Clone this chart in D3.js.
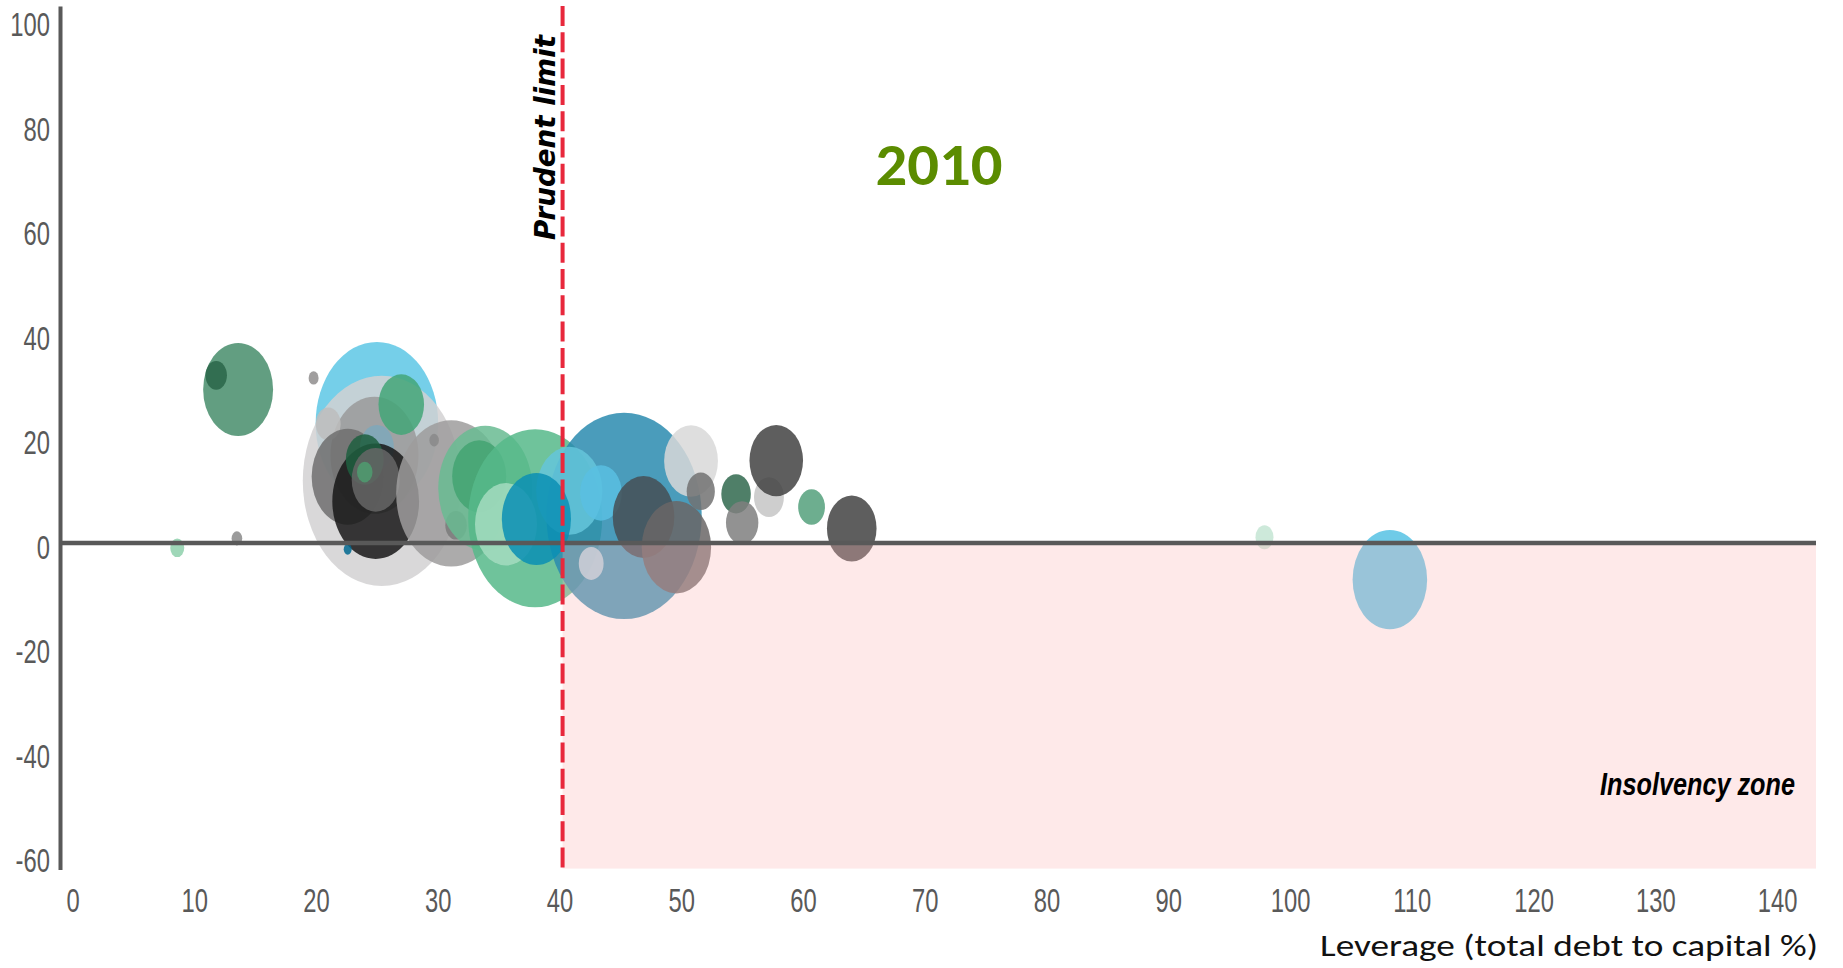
<!DOCTYPE html>
<html>
<head>
<meta charset="utf-8">
<script src="https://cdn.jsdelivr.net/npm/d3@7"></script>
<style>
  html, body { margin: 0; padding: 0; background: #ffffff; }
  svg { display: block; }
</style>
</head>
<body>
<svg id="chart" width="1843" height="968"></svg>
<script>
// ---- Data -------------------------------------------------------------
// Leverage (total debt to capital, %) of each company, in drawing order
const leverage = [
  25.0, 25.4, 24.8, 21.0, 22.6, 25.0, 24.9, 24.0, 24.9, 24.0,
  27.0, 31.1, 29.7, 31.5, 33.9, 33.4, 38.0, 35.6, 45.3, 40.8,
  38.1, 43.4, 42.6, 46.9, 49.6, 50.8, 51.6, 54.5, 55.0, 57.2,
  57.8, 60.7, 64.0, 13.6, 11.8, 19.8, 13.5, 22.6, 8.6, 97.9,
  108.2
];
// Vertical measure (%) of each company
const returnPct = [
  22.9, 11.9, 16.8, 22.8, 12.7, 18.3, 8.0, 16.0, 12.1, 13.6,
  26.5, 9.5, 19.7, 3.4, 10.5, 12.8, 4.75, 3.6, 5.2, 10.0,
  4.6, 9.6, -3.9, 5.0, -0.8, 15.7, 9.9, 9.4, 3.9, 8.8,
  15.8, 6.9, 2.8, 29.4, 32.1, 31.6, 0.9, -1.2, -0.9, 1.1,
  -7.0
];
// Company size (bubble area measure)
const companySize = [
  58.7, 97.5, 30.3, 2.4, 20.3, 4.5, 29.4, 5.6, 9.0, 0.95,
  8.1, 47.3, 0.35, 1.8, 34.5, 11.4, 70.1, 15.0, 94.1, 17.1,
  18.7, 6.8, 2.4, 14.8, 18.8, 11.3, 3.1, 3.4, 4.1, 3.5,
  11.2, 2.8, 9.6, 19.1, 1.8, 0.39, 0.44, 0.25, 0.77, 1.27,
  21.7
];
const xTicks = [0, 10, 20, 30, 40, 50, 60, 70, 80, 90, 100, 110, 120, 130, 140];
const yTicks = [-60, -40, -20, 0, 20, 40, 60, 80, 100];
const prudentLimit = 40.25;
const yearLabel = "2010";
const xTitle = "Leverage (total debt to capital %)";

// ---- Styling ----------------------------------------------------------
const bubbleColour = [
  "#5dc7e5", "#d2d1d2", "#9a9a9a", "#bdbdbd", "#6e6e6e", "#7ea8bb", "#171717", "#1f5f40", "#666666", "#4f9c70",
  "#43a678", "#9e9c9c", "#8a8a8a", "#7a7a7a", "#68bb92", "#43a372", "#56b88a", "#a5dcc0", "#2a8baf", "#65c6da",
  "#0a8fb4", "#59bfe2", "#c0dbe6", "#454f55", "#6a6666", "#d8d8d8", "#727272", "#30684d", "#7f7f7f", "#c6c6c6",
  "#424242", "#53a07b", "#424242", "#468d6b", "#2a6549", "#8f8d8d", "#8a8a8a", "#00688f", "#8ed0ab", "#c4e5d3",
  "#56c2e4"
];
const axisGrey = "#595959";
const limitRed = "#e8283c";

// ---- Scales -----------------------------------------------------------
const svg = d3.select("#chart");
const x = d3.scaleLinear().domain([-1.03, 143.2]).range([60, 1816]);
const y = d3.scaleLinear().domain([-62.5, 102.8]).range([869.6, 6]);
const r = d3.scaleSqrt().domain([0, 100]).range([0, 80]);
const stretch = 1.33; // bubbles are drawn as upright ellipses

// ---- Bubbles ----------------------------------------------------------
svg.append("g")
  .selectAll("ellipse")
  .data(d3.range(leverage.length))
  .join("ellipse")
  .attr("cx", i => x(leverage[i]))
  .attr("cy", i => y(returnPct[i]))
  .attr("rx", i => r(companySize[i]))
  .attr("ry", i => r(companySize[i]) * stretch)
  .attr("fill", i => bubbleColour[i])
  .attr("fill-opacity", 0.85);

// ---- Insolvency zone (tinted overlay) ---------------------------------
svg.append("rect")
  .attr("x", x(prudentLimit))
  .attr("y", y(0))
  .attr("width", x(143.2) - x(prudentLimit))
  .attr("height", y(-62.3) - y(0))
  .attr("fill", "rgb(252,182,182)")
  .attr("opacity", 0.3);

// ---- Axes -------------------------------------------------------------
const yAxis = svg.append("g")
  .attr("transform", `translate(${x(-1.03)},0)`)
  .call(d3.axisLeft(y).tickValues(yTicks).tickSize(0).tickPadding(10).tickFormat(d => String(d)));
yAxis.select(".domain").attr("stroke", axisGrey).attr("stroke-width", 4);
yAxis.selectAll("text")
  .attr("x", 0)
  .attr("dy", "0.45em")
  .attr("transform", "translate(-10,0) scale(0.7,1)")
  .attr("fill", axisGrey)
  .style("font-family", "'Liberation Sans', Arial, sans-serif")
  .style("font-size", "34px");

const xAxis = svg.append("g")
  .attr("transform", `translate(0,${y(-62.5)})`)
  .call(d3.axisBottom(x).tickValues(xTicks).tickSize(0).tickPadding(18).tickFormat(d => String(d)));
xAxis.select(".domain").remove();
xAxis.selectAll("text")
  .attr("transform", "scale(0.7,1)")
  .attr("x", 0)
  .attr("fill", axisGrey)
  .style("font-family", "'Liberation Sans', Arial, sans-serif")
  .style("font-size", "34px");
// keep each label centred on its tick after the horizontal squeeze
xAxis.selectAll(".tick").each(function () {
  const g = d3.select(this);
  const t = g.attr("transform");
  const tx = +t.match(/translate\(([-\d.]+)/)[1];
  g.attr("transform", `translate(${tx},0)`);
});

// zero line
svg.append("line")
  .attr("x1", x(-1.03)).attr("x2", x(143.2))
  .attr("y1", y(0)).attr("y2", y(0))
  .attr("stroke", axisGrey)
  .attr("stroke-width", 4.5);

// prudent leverage limit
svg.append("line")
  .attr("x1", x(prudentLimit)).attr("x2", x(prudentLimit))
  .attr("y1", y(102.8)).attr("y2", y(-62.5))
  .attr("stroke", limitRed)
  .attr("stroke-width", 4)
  .attr("stroke-dasharray", "20 6.3");

// ---- Text -------------------------------------------------------------
svg.append("text")
  .attr("transform", `translate(${x(prudentLimit) - 8},240) rotate(-90)`)
  .attr("text-anchor", "start")
  .attr("textLength", 205)
  .attr("lengthAdjust", "spacingAndGlyphs")
  .style("font-family", "'DejaVu Sans', Verdana, sans-serif")
  .style("font-weight", "bold")
  .style("font-style", "italic")
  .style("font-size", "28px")
  .attr("fill", "#000")
  .text("Prudent limit");

svg.append("text")
  .attr("x", 939).attr("y", 184.5)
  .attr("text-anchor", "middle")
  .attr("textLength", 127)
  .attr("lengthAdjust", "spacingAndGlyphs")
  .style("font-family", "Carlito, Lato, sans-serif")
  .style("font-weight", "bold")
  .style("font-size", "60px")
  .attr("fill", "#5b8c00")
  .text(yearLabel);

svg.append("text")
  .attr("x", 1795).attr("y", 795)
  .attr("text-anchor", "end")
  .attr("textLength", 195)
  .attr("lengthAdjust", "spacingAndGlyphs")
  .style("font-family", "'Liberation Sans', Arial, sans-serif")
  .style("font-weight", "bold")
  .style("font-style", "italic")
  .style("font-size", "32px")
  .attr("fill", "#000")
  .text("Insolvency zone");

svg.append("text")
  .attr("x", 1818).attr("y", 956)
  .attr("text-anchor", "end")
  .attr("textLength", 498)
  .attr("lengthAdjust", "spacingAndGlyphs")
  .style("font-family", "Carlito, Lato, sans-serif")
  .style("font-size", "30px")
  .attr("fill", "#111")
  .text(xTitle);
</script>
</body>
</html>
